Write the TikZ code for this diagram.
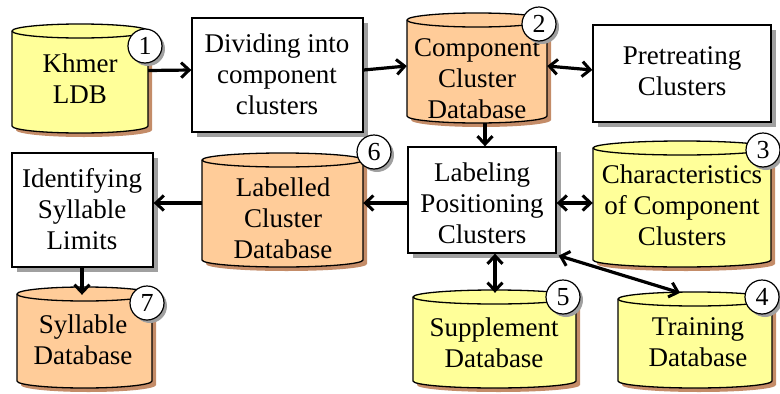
\documentclass[tikz,border=0pt]{standalone}
\usepackage{fontspec}
\setmainfont{Liberation Serif}
\usetikzlibrary{arrows.meta,calc}
\definecolor{dbyellow}{RGB}{255,255,153}
\definecolor{dborange}{RGB}{255,204,153}
\definecolor{cylshade}{RGB}{196,140,104}
\definecolor{boxshade}{RGB}{160,160,160}
\tikzset{
  lbl/.style={font=\rmfamily\fontsize{27}{31}\selectfont, align=center, inner sep=0pt},
  numcirc/.style={circle, draw, fill=white, line width=1.2pt, minimum size=34pt, inner sep=0pt, font=\rmfamily\fontsize{26}{26}\selectfont},
  procbox/.style={draw, fill=white, line width=1.3pt, inner sep=0pt},
  anchorbox/.style={inner sep=0pt, draw=none},
  tipbarb/.tip={Straight Barb[length=8pt,width=15pt,line width=3pt]},
  conn/.style={line width=3.2pt, -tipbarb},
  biconn/.style={line width=3.2pt, tipbarb-tipbarb},
}
% cylinder: name, x1, y1, x2, y2, fill
\newcommand{\dbcyl}[6]{%
  \pgfmathsetmacro\cylrx{(#4-#2)/2}%
  \pgfmathsetmacro\cylyt{#3+7}%
  \pgfmathsetmacro\cylyb{#5-7}%
  \pgfmathsetmacro\cylxc{(#2+#4)/2}%
  \pgfmathsetmacro\cylyc{(#3+#5)/2}%
  \pgfmathsetmacro\cylw{#4-#2}%
  \pgfmathsetmacro\cylh{#5-#3}%
  \begin{scope}[shift={(4,4)}]
    \fill[cylshade] (#2,\cylyt) -- (#2,\cylyb) arc[start angle=180,end angle=0,x radius=\cylrx pt,y radius=7pt]
      -- (#4,\cylyt) arc[start angle=0,end angle=-180,x radius=\cylrx pt,y radius=7pt] -- cycle;
  \end{scope}
  \filldraw[fill=#6, line width=1.3pt] (#2,\cylyt) -- (#2,\cylyb) arc[start angle=180,end angle=0,x radius=\cylrx pt,y radius=7pt]
      -- (#4,\cylyt) arc[start angle=0,end angle=-180,x radius=\cylrx pt,y radius=7pt] -- cycle;
  \draw[line width=1.3pt] (#2,\cylyt) arc[start angle=180,end angle=0,x radius=\cylrx pt,y radius=7pt];
  \node[anchorbox, minimum width=\cylw pt, minimum height=\cylh pt] (#1) at (\cylxc,\cylyc) {};
}
% process box: name, x1, y1, x2, y2
\newcommand{\procrect}[5]{%
  \pgfmathsetmacro\bw{#4-#2}%
  \pgfmathsetmacro\bh{#5-#3}%
  \fill[boxshade] (#2+5,#3+5) rectangle (#4+5,#5+5);
  \node[procbox, minimum width=\bw pt, minimum height=\bh pt] (#1) at ({(#2+#4)/2},{(#3+#5)/2}) {};
}
% number circle: name, x, y, number
\newcommand{\numbadge}[4]{%
  \fill[boxshade] (#2+3,#3+3) circle[radius=17pt];
  \node[numcirc] (#1) at (#2,#3) {#4};
}
\begin{document}
\begin{tikzpicture}[x=1pt,y=1pt,yscale=-1]
\useasboundingbox (0,0) rectangle (780,394);

% cylinders
\dbcyl{c1}{12}{24}{148}{133}{dbyellow}
\dbcyl{c2}{407}{13}{547}{123}{dborange}
\dbcyl{c3}{593}{141}{771}{267}{dbyellow}
\dbcyl{c6}{202}{153}{363}{267}{dborange}
\dbcyl{c7}{17}{287}{152}{388}{dborange}
\dbcyl{c5}{413}{290}{576}{388}{dbyellow}
\dbcyl{c4}{618}{292}{772}{388}{dbyellow}

% boxes
\procrect{dv}{192}{18}{363}{132}
\procrect{pt}{593}{25}{771}{122}
\procrect{lb}{408}{147}{556}{253}
\procrect{id}{12}{153}{153}{267}

% texts
\node[lbl] (t1) at (80,78.5) {Khmer\\LDB};
\node[lbl] (tdv) at (277,74) {Dividing into\\component\\clusters};
\node[lbl] (t2) at (477,79) {Component\\Cluster\\Database};
\node[lbl] (tpt) at (682,71.5) {Pretreating\\Clusters};
\node[lbl] (tlb) at (482,203) {Labeling\\Positioning\\Clusters};
\node[lbl] (t3) at (682,205) {Characteristics\\of Component\\Clusters};
\node[lbl] (t6) at (283,218) {Labelled\\Cluster\\Database};
\node[lbl] (tid) at (82,209) {Identifying\\Syllable\\Limits};
\node[lbl] (t7) at (83,339.5) {Syllable\\Database};
\node[lbl] (t5) at (494,343) {Supplement\\Database};
\node[lbl] (t4) at (698,342) {Training\\Database};

% number badges
\numbadge{n1}{145}{46}{1}
\numbadge{n2}{539}{24}{2}
\numbadge{n3}{763}{150}{3}
\numbadge{n4}{762}{297}{4}
\numbadge{n5}{563}{297}{5}
\numbadge{n6}{374}{152}{6}
\numbadge{n7}{147}{303}{7}

% connectors
\draw[conn] ([yshift=-8pt]c1.east) -- ([yshift=-5pt]dv.west);
\draw[conn] ([yshift=-5pt]dv.east) -- ([yshift=-2pt]c2.west);
\draw[biconn] ([yshift=-2pt]c2.east) -- ([yshift=-3.5pt]pt.west);
\draw[conn] ([xshift=8pt]c2.south) -- ([xshift=3pt]lb.north);
\draw[biconn] ([yshift=3pt]lb.east) -- ([yshift=-1pt]c3.west);
\draw[conn] ([yshift=3pt]lb.west) -- ([yshift=-7pt]c6.east);
\draw[conn] ([yshift=-7pt]c6.west) -- ([yshift=-7pt]id.east);
\draw[conn] ([xshift=-0.5pt]id.south) -- ([xshift=-2.5pt,yshift=8pt]c7.north);
\draw[biconn] ([xshift=13pt]lb.south) -- ([xshift=0.5pt,yshift=3pt]c5.north);
\draw[biconn] ([xshift=2pt,yshift=2pt]lb.south east) -- ([xshift=-15pt,yshift=1pt]c4.north);
\end{tikzpicture}
\end{document}
